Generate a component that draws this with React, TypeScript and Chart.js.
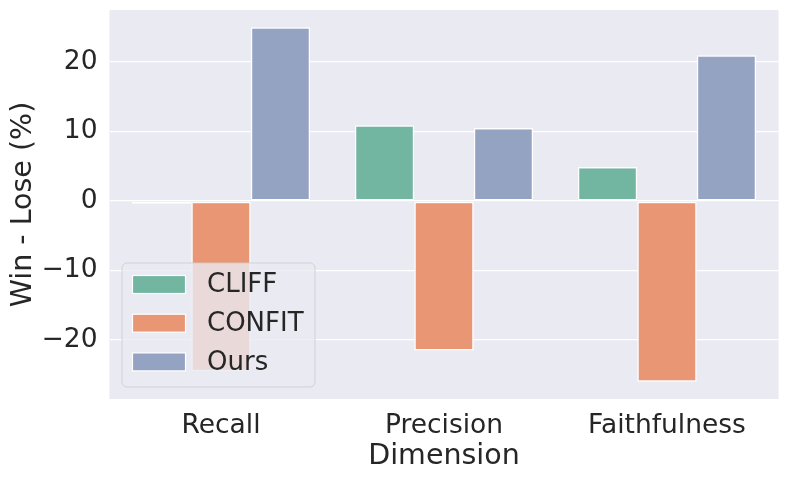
import React, { useEffect, useRef } from "react";
import { Chart, registerables } from "chart.js";

Chart.register(...registerables);

const categories = ["Recall", "Precision", "Faithfulness"];
const seriesNames = ["CLIFF", "CONFIT", "Ours"];
const cliffValues = [-0.4, 10.9, 4.9];
const confitValues = [-24.5, -21.5, -26.0];
const oursValues = [25.0, 10.5, 21.0];
const yTickValues = [-20, -10, 0, 10, 20];
const seriesColors = ["#72b6a1", "#e99675", "#95a3c3"];

const FONT = "'DejaVu Sans', sans-serif";
const TEXT = "#262626";

const bgPlugin = {
  id: "bgPlugin",
  beforeDraw(chart: any) {
    const { ctx, chartArea } = chart;
    ctx.save();
    ctx.fillStyle = "#eaeaf2";
    ctx.fillRect(chartArea.left, chartArea.top, chartArea.right - chartArea.left, chartArea.bottom - chartArea.top);
    ctx.restore();
  },
};

const legendPlugin = {
  id: "legendPlugin",
  afterDraw(chart: any) {
    const { ctx, chartArea } = chart;
    const x0 = chartArea.left + 12.5;
    const y0 = chartArea.bottom - 136;
    const w = 193;
    const h = 124;
    const r = 5;
    ctx.save();
    ctx.beginPath();
    ctx.moveTo(x0 + r, y0);
    ctx.lineTo(x0 + w - r, y0);
    ctx.arcTo(x0 + w, y0, x0 + w, y0 + r, r);
    ctx.lineTo(x0 + w, y0 + h - r);
    ctx.arcTo(x0 + w, y0 + h, x0 + w - r, y0 + h, r);
    ctx.lineTo(x0 + r, y0 + h);
    ctx.arcTo(x0, y0 + h, x0, y0 + h - r, r);
    ctx.lineTo(x0, y0 + r);
    ctx.arcTo(x0, y0, x0 + r, y0, r);
    ctx.closePath();
    ctx.fillStyle = "rgba(234,234,242,0.8)";
    ctx.fill();
    ctx.strokeStyle = "rgba(204,204,204,0.8)";
    ctx.lineWidth = 1;
    ctx.stroke();
    chart.data.datasets.forEach((ds: any, i: number) => {
      const cy = y0 + 21.5 + i * 38.7;
      ctx.fillStyle = ds.backgroundColor;
      ctx.fillRect(x0 + 10.5, cy - 9, 53, 18);
      ctx.strokeStyle = "#ffffff";
      ctx.lineWidth = 1.2;
      ctx.strokeRect(x0 + 10.5, cy - 9, 53, 18);
      ctx.fillStyle = TEXT;
      ctx.font = `26px ${FONT}`;
      ctx.textBaseline = "middle";
      ctx.textAlign = "left";
      ctx.fillText(ds.label, x0 + 85, cy + 1);
    });
    ctx.restore();
  },
};

export default function App() {
  const ref = useRef<HTMLCanvasElement | null>(null);
  useEffect(() => {
    if (!ref.current) return;
    const values = [cliffValues, confitValues, oursValues];
    const chart = new Chart(ref.current, {
      type: "bar",
      data: {
        labels: categories,
        datasets: seriesNames.map((name, i) => ({
          label: name,
          data: values[i],
          backgroundColor: seriesColors[i],
          borderColor: "#ffffff",
          borderWidth: 1.5,
          borderSkipped: false,
          categoryPercentage: 0.8,
          barPercentage: 1.0,
        })),
      },
      options: {
        responsive: false,
        animation: false,
        layout: { padding: { top: 10, right: 9.5, left: 6, bottom: 5 } },
        plugins: { legend: { display: false }, tooltip: { enabled: false } },
        scales: {
          x: {
            offset: true,
            grid: { display: false, drawTicks: false },
            border: { display: false },
            ticks: { color: TEXT, font: { family: FONT, size: 26.5 }, padding: 11 },
            title: { display: true, text: "Dimension", color: TEXT, font: { family: FONT, size: 28.5 }, padding: 0 },
            afterFit(scale: any) {
              scale.height = 80 - 5;
              scale.paddingLeft = 0;
              scale.paddingRight = 0;
            },
          },
          y: {
            min: -28.5,
            max: 27.5,
            grid: { color: "#ffffff", lineWidth: 1.3, drawTicks: false },
            border: { display: false },
            afterBuildTicks(scale: any) {
              scale.ticks = yTickValues.map((v) => ({ value: v }));
            },
            ticks: {
              color: TEXT,
              font: { family: FONT, size: 26.5 },
              padding: 12,
              callback: (v: any) => (Number(v) < 0 ? "\u2212" + Math.abs(Number(v)) : String(v)),
            },
            title: { display: true, text: "Win - Lose (%)", color: TEXT, font: { family: FONT, size: 28.5 }, padding: 0 },
            afterFit(scale: any) {
              scale.width = 109.5 - 6;
              scale.paddingTop = 0;
              scale.paddingBottom = 0;
            },
          },
        },
      },
      plugins: [bgPlugin, legendPlugin],
    });
    return () => chart.destroy();
  }, []);
  return (
    <div style={{ position: "fixed", left: 0, top: 0, width: 788, height: 479, background: "#fff" }}>
      <canvas ref={ref} width={788} height={479} style={{ width: 788, height: 479 }} />
    </div>
  );
}
